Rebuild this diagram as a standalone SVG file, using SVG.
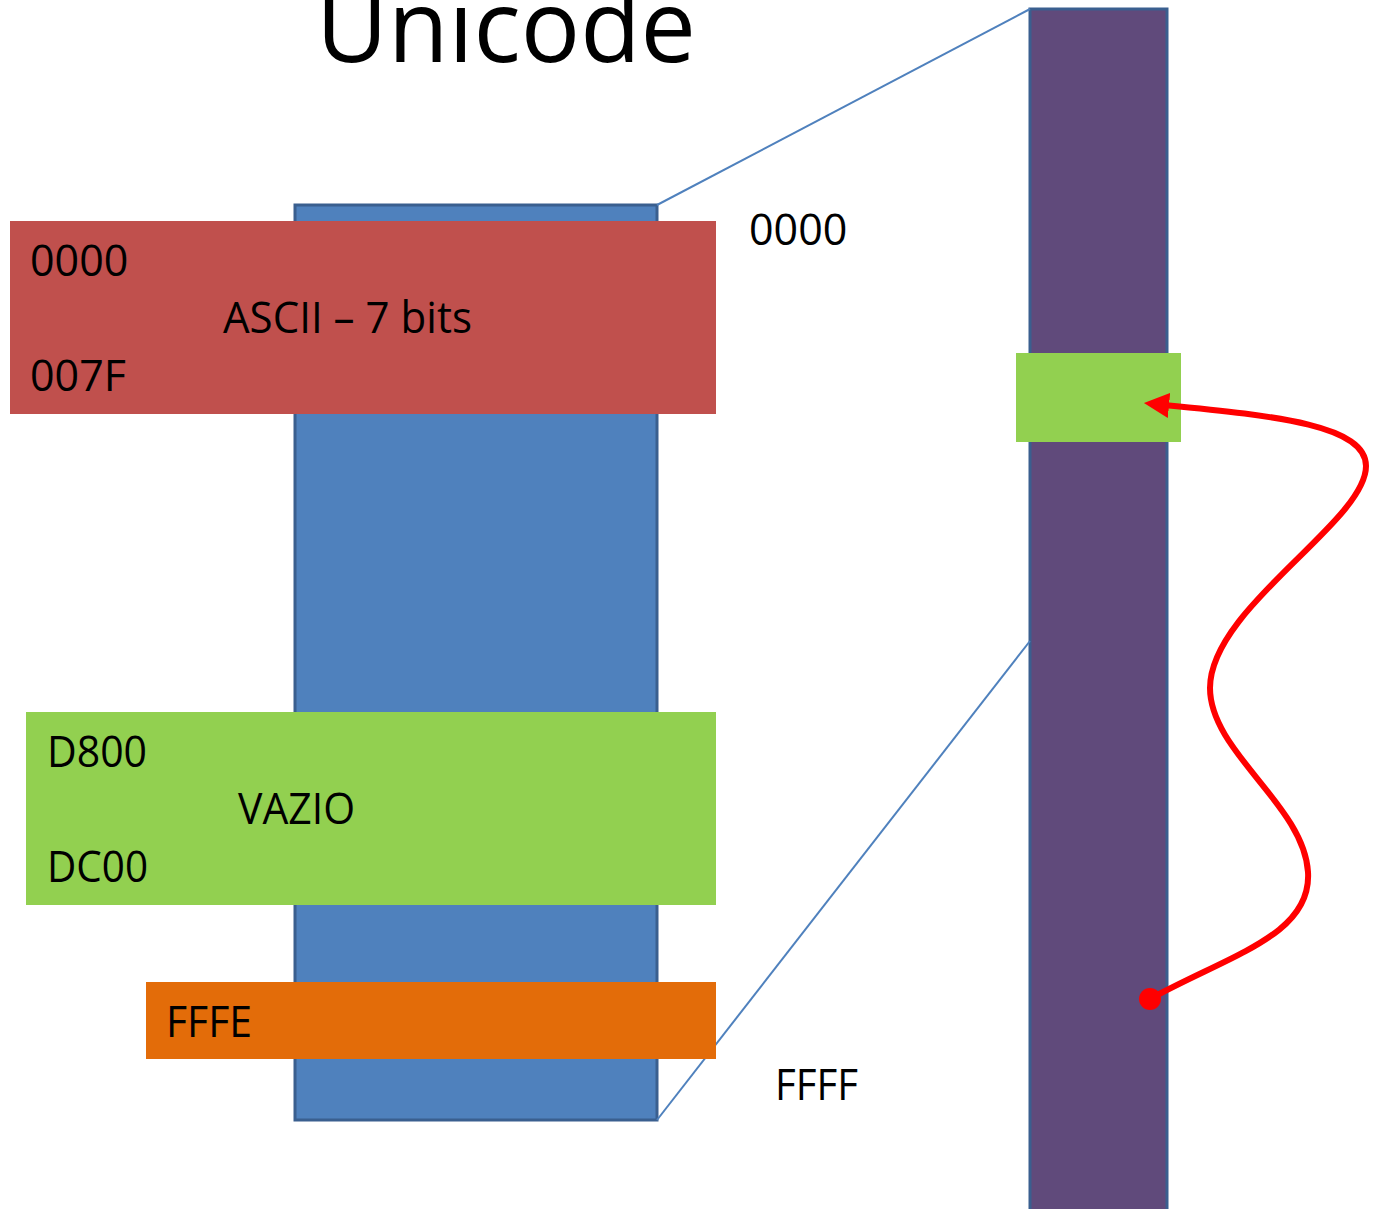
<svg xmlns="http://www.w3.org/2000/svg" width="1374" height="1209" viewBox="0 0 1374 1209">
  <defs>
    <style>
      .t { font-family: "Open Sans", "Noto Sans", "Liberation Sans", sans-serif; font-size: 43px; fill: #000; }
      .title { font-family: "Open Sans", "Noto Sans", "Liberation Sans", sans-serif; font-size: 100px; fill: #000; }
      .bar { stroke: #3A5F8F; stroke-width: 3; }
      .zoomline { stroke: #4F81BD; stroke-width: 2; fill: none; }
    </style>
    <marker id="arrowhead" viewBox="0 0 10 10" refX="2" refY="5" markerWidth="4.2" markerHeight="4.2" markerUnits="strokeWidth" orient="auto">
      <path d="M0,0 L10,5 L0,10 Z" fill="#FF0000"/>
    </marker>
  </defs>

  <rect width="1374" height="1209" fill="#FFFFFF"/>

  <!-- title -->
  <text class="title" x="316" y="62" textLength="380" lengthAdjust="spacingAndGlyphs">Unicode</text>

  <!-- BMP column -->
  <g id="bmp">
    <rect class="bar" x="295" y="205" width="362" height="915" fill="#4F81BD"/>
  </g>

  <!-- full code space column -->
  <g id="codespace">
    <rect class="bar" x="1030" y="9" width="137" height="1210" fill="#604A7B"/>
  </g>

  <!-- connectors -->
  <g id="connectors">
    <line class="zoomline" x1="657" y1="205" x2="1030" y2="9"/>
    <line class="zoomline" x1="657" y1="1120" x2="1030" y2="641"/>
  </g>

  <g id="ascii">
    <rect x="10" y="221" width="706" height="193" fill="#C0504D"/>
    <text class="t" x="30" y="276">0000</text>
    <text class="t" x="223" y="333" textLength="249" lengthAdjust="spacingAndGlyphs">ASCII – 7 bits</text>
    <text class="t" x="30" y="391">007F</text>
  </g>

  <g id="surrogates">
    <rect x="26" y="712" width="690" height="193" fill="#92D050"/>
    <text class="t" x="47" y="767" textLength="100" lengthAdjust="spacingAndGlyphs">D800</text>
    <text class="t" x="238" y="824" textLength="117" lengthAdjust="spacingAndGlyphs">VAZIO</text>
    <text class="t" x="47" y="882" textLength="101" lengthAdjust="spacingAndGlyphs">DC00</text>
  </g>

  <g id="fffe">
    <rect x="146" y="982" width="570" height="77" fill="#E36C09"/>
    <text class="t" x="166" y="1037" textLength="86" lengthAdjust="spacingAndGlyphs">FFFE</text>
  </g>

  <g id="labels">
    <text class="t" x="749" y="245">0000</text>
    <text class="t" x="775" y="1100" textLength="83" lengthAdjust="spacingAndGlyphs">FFFF</text>
  </g>

  <g id="bmp-slot">
    <rect x="1016" y="353" width="165" height="89" fill="#92D050"/>
  </g>

  <!-- jump from a supplementary code point into the BMP slot -->
  <g id="jump">
    <path d="M1150,999 C1230,955 1312,935 1308,872 C1304,805 1210,752 1210,688 C1210,608 1366,522 1366,466 C1366,426 1280,416 1164,405" fill="none" stroke="#FF0000" stroke-width="6" marker-end="url(#arrowhead)"/>
    <circle cx="1150" cy="999" r="11" fill="#FF0000"/>
  </g>
</svg>
